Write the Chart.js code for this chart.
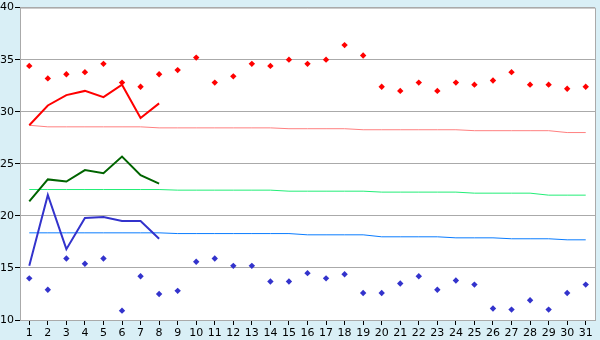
<!DOCTYPE html>
<html>
<head>
<meta charset="utf-8">
<script src="https://cdn.jsdelivr.net/npm/chart.js@4/dist/chart.umd.min.js"></script>
<style>
  html, body { margin: 0; padding: 0; background: #d9eff6; }
  #wrap { width: 600px; height: 340px; }
</style>
</head>
<body>
<div id="wrap"><canvas id="c" width="600" height="340"></canvas></div>
<script>
const days = ["1","2","3","4","5","6","7","8","9","10","11","12","13","14","15","16","17","18","19","20","21","22","23","24","25","26","27","28","29","30","31"];
const yTicks = [10, 15, 20, 25, 30, 35, 40];

const recordMax = [34.4,33.2,33.6,33.8,34.6,32.8,32.4,33.6,34.0,35.2,32.8,33.4,34.6,34.4,35.0,34.6,35.0,36.4,35.4,32.4,32.0,32.8,32.0,32.8,32.6,33.0,33.8,32.6,32.6,32.2,32.4];
const recordMin = [14.0,12.9,15.9,15.4,15.9,10.9,14.2,12.5,12.8,15.6,15.9,15.2,15.2,13.7,13.7,14.5,14.0,14.4,12.6,12.6,13.5,14.2,12.9,13.8,13.4,11.1,11.0,11.9,11.0,12.6,13.4];

const dailyMax  = [28.7,30.6,31.6,32.0,31.4,32.6,29.4,30.8];
const dailyMean = [21.4,23.5,23.3,24.4,24.1,25.7,23.9,23.1];
const dailyMin  = [15.2,22.0,16.8,19.8,19.9,19.5,19.5,17.8];

const normalMax  = [28.7,28.55,28.55,28.55,28.55,28.55,28.55,28.45,28.45,28.45,28.45,28.45,28.45,28.45,28.37,28.37,28.37,28.37,28.27,28.27,28.27,28.27,28.27,28.27,28.18,28.18,28.18,28.18,28.18,28.0,28.0];
const normalMean = [22.53,22.53,22.53,22.53,22.53,22.53,22.53,22.53,22.47,22.47,22.47,22.47,22.47,22.47,22.37,22.37,22.37,22.37,22.37,22.28,22.28,22.28,22.28,22.28,22.18,22.18,22.18,22.18,21.99,21.99,21.99];
const normalMin  = [18.37,18.37,18.37,18.37,18.37,18.37,18.37,18.37,18.3,18.3,18.3,18.3,18.3,18.3,18.3,18.18,18.18,18.18,18.18,17.99,17.99,17.99,17.99,17.89,17.89,17.89,17.8,17.8,17.8,17.7,17.7];

const frame = {
  id: 'frame',
  beforeDraw(chart) {
    const ctx = chart.ctx, a = chart.chartArea;
    ctx.save();
    ctx.fillStyle = '#d9eff6';
    ctx.fillRect(0, 0, chart.width, chart.height);
    ctx.fillStyle = '#ffffff';
    ctx.fillRect(a.left, a.top, a.right - a.left, a.bottom - a.top);
    ctx.restore();
  },
  afterDraw(chart) {
    const ctx = chart.ctx, a = chart.chartArea;
    ctx.save();
    ctx.strokeStyle = '#aaaaaa';
    ctx.lineWidth = 1;
    ctx.beginPath();
    ctx.moveTo(a.left, a.top + 0.5);
    ctx.lineTo(a.right + 0.5, a.top + 0.5);
    ctx.lineTo(a.right + 0.5, a.bottom);
    ctx.stroke();
    ctx.restore();
  }
};

const lineDs = (data, color, width) => ({
  type: 'line', data, borderColor: color, backgroundColor: color,
  borderWidth: width, pointRadius: 0, tension: 0, fill: false
});
const pointDs = (data, color) => ({
  type: 'line', data, showLine: false, pointStyle: 'rectRot',
  pointRadius: 3.2, pointBorderWidth: 0, pointBackgroundColor: color,
  borderColor: color, backgroundColor: color
});

new Chart(document.getElementById('c'), {
  type: 'line',
  data: {
    labels: days,
    datasets: [
      lineDs(dailyMax, '#ff0000', 2),
      lineDs(dailyMean, '#006400', 2),
      lineDs(dailyMin, '#3333cc', 2),
      pointDs(recordMax, '#ff0000'),
      pointDs(recordMin, '#3333cc'),
      lineDs(normalMax, '#ff8080', 1),
      lineDs(normalMean, '#22ee77', 1),
      lineDs(normalMin, '#0a7cff', 1)
    ]
  },
  options: {
    responsive: false,
    animation: false,
    devicePixelRatio: 1,
    layout: { padding: { top: 5, right: 5, left: 0, bottom: 0 } },
    plugins: { legend: { display: false }, tooltip: { enabled: false } },
    scales: {
      x: {
        type: 'category',
        offset: true,
        grid: { drawOnChartArea: false, drawTicks: true, tickLength: 5, tickColor: '#000000' },
        border: { display: true, color: '#aaaaaa' },
        ticks: { color: '#000000', font: { family: 'DejaVu Sans', size: 11 }, padding: 2, autoSkip: false, maxRotation: 0 },
        afterFit(s) { s.height = 20; }
      },
      y: {
        min: 10, max: 40,
        afterBuildTicks(s) { s.ticks = yTicks.map(v => ({ value: v })); },
        grid: { color: '#aaaaaa', tickColor: '#000000', tickLength: 5 },
        border: { display: true, color: '#aaaaaa' },
        ticks: { color: '#000000', font: { family: 'DejaVu Sans', size: 11 }, padding: 1 },
        afterFit(s) { s.width = 20; }
      }
    }
  },
  plugins: [frame]
});
</script>
</body>
</html>
